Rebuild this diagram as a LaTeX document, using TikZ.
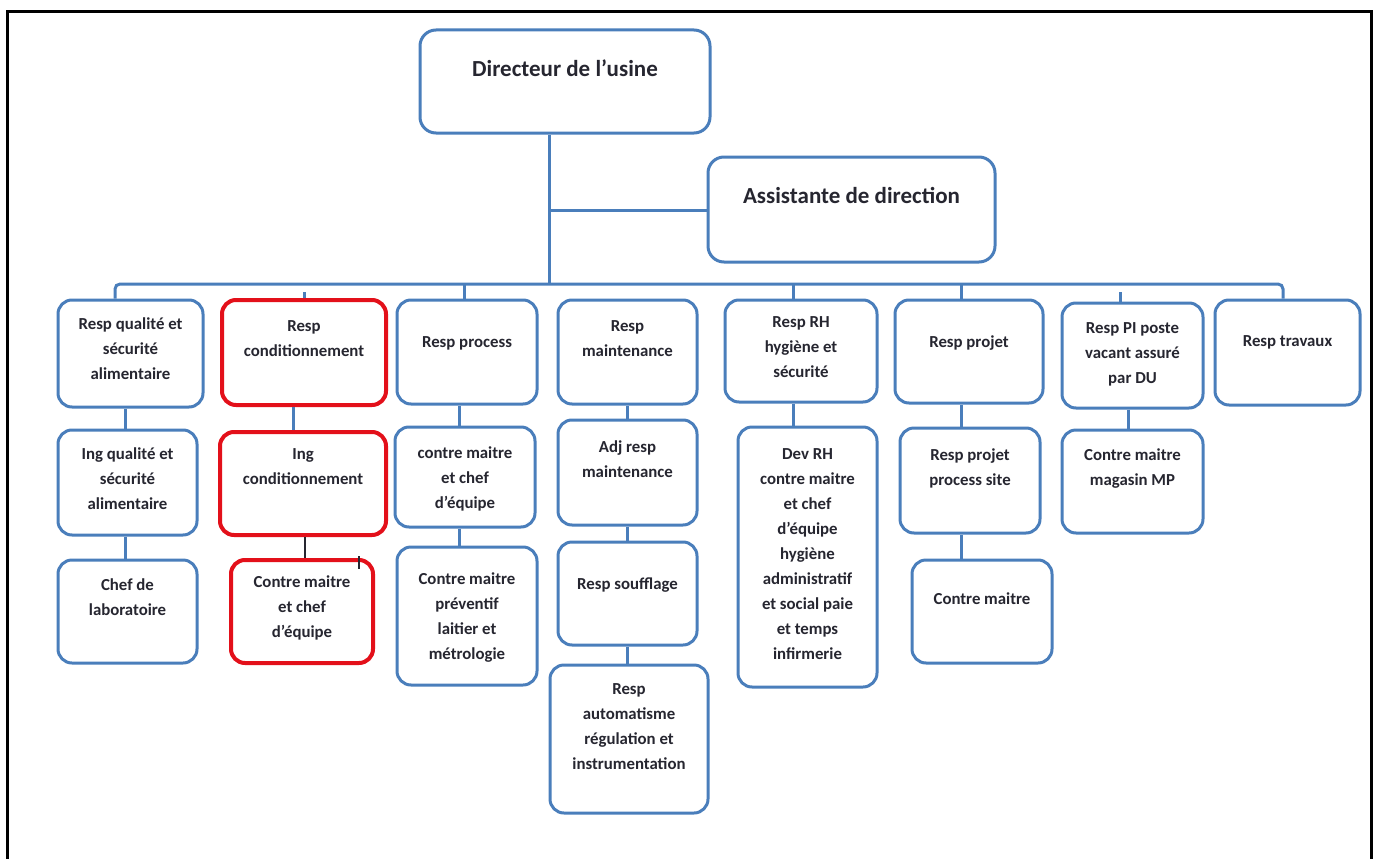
\documentclass[tikz,border=0pt]{standalone}
\usepackage{fontspec}
\setmainfont{Carlito}
\usetikzlibrary{fit}
\definecolor{boxblue}{HTML}{4A7EBB}
\definecolor{boxred}{HTML}{E3101A}
\definecolor{ink}{HTML}{262630}
\tikzset{
  box/.style={draw=boxblue, fill=white, line width=3pt, rounded corners=14pt, inner sep=0pt},
  redbox/.style={draw=boxred, fill=white, line width=4pt, rounded corners=14pt, inner sep=0pt},
  lbl/.style={align=center, inner sep=0pt, text=ink, anchor=north,
    font=\bfseries\fontsize{16.8}{25}\selectfont},
  toplbl/.style={align=center, inner sep=0pt, text=ink, anchor=north,
    font=\bfseries\fontsize{23}{28}\selectfont},
  link/.style={draw=boxblue, line width=3pt},
  thinlink/.style={draw=ink, line width=1.6pt},
  frame/.style={draw=black, line width=3pt},
}
% \orgbox[style]{name}{x1}{y1}{x2}{y2}{y of first text line}{text}
\newcommand\orgbox[8][box]{%
  \node[#1, fit={(#3,#4) (#5,#6)}] (#2) {};
  \node[lbl] (#2-t) at ({(#3+#5)/2}, {#7-13}) {\strut #8};
}
\begin{document}
\begin{tikzpicture}[x=1pt, y=-1pt]
\useasboundingbox (0,0) rectangle (1373,859);

% outer frame, open at the bottom
\draw[frame] (7.5,859) -- (7.5,11.5) -- (1371.5,11.5) -- (1371.5,859);

% named points of the connector tree
\coordinate (tr) at (549,284);
\coordinate (jn) at (549,210);
\coordinate (busL) at (115,284);
\coordinate (busR) at (1283,284);
\coordinate (d13) at (464,284);
\coordinate (d15) at (793,284);
\coordinate (d16) at (961,284);
\coordinate (s12) at (304,292);
\coordinate (s17) at (1120,292);
\coordinate (c1) at (125,0);
\coordinate (c2) at (293,0);
\coordinate (c2b) at (305,0);
\coordinate (c3) at (459,0);
\coordinate (c4) at (627,0);
\coordinate (c5) at (793,0);
\coordinate (c6) at (961,0);
\coordinate (c7) at (1128,0);
\coordinate (m1) at (359,556);

% top level
\node[box, rounded corners=16pt, fit={(420,30) (710,133)}] (dir) {};
\node[toplbl] (dir-t) at (565,57) {\strut Directeur de l’usine};
\node[box, rounded corners=16pt, fit={(708,157) (995,262)}] (asst) {};
\node[toplbl] (asst-t) at (851.5,184) {\strut Assistante de direction};

\draw[link] (dir.south -| tr) -- (tr);
\draw[link] (jn) -- (asst.west |- jn);

% first row
\orgbox{b11}{58}{300}{203}{407}{325}{Resp qualité et\\sécurité\\alimentaire}
\orgbox[redbox]{b12}{222}{300}{386}{405}{327}{Resp\\conditionnement}
\orgbox{b13}{397}{300}{537}{404}{343}{Resp process}
\orgbox{b14}{558}{300}{697}{404}{327}{Resp\\maintenance}
\orgbox{b15}{725}{300}{877}{402}{323}{Resp RH\\hygiène et\\sécurité}
\orgbox{b16}{895}{300}{1043}{403}{343}{Resp projet}
\orgbox{b17}{1062}{303}{1203}{408}{329}{Resp PI poste\\vacant assuré\\par DU}
\orgbox{b18}{1215}{300}{1360}{405}{342}{Resp travaux}

% bus
\draw[link, rounded corners=5pt] (b11.north -| busL) -- (busL) -- (busR) -- (b18.north -| busR);
\draw[link] (d13) -- (b13.north -| d13);
\draw[link] (d15) -- (b15.north -| d15);
\draw[link] (d16) -- (b16.north -| d16);
\draw[link] (s12) -- (b12.north -| s12);
\draw[link] (s17) -- (b17.north -| s17);

% second row
\orgbox{b21}{58}{430}{197}{535}{455}{Ing qualité et\\sécurité\\alimentaire}
\orgbox[redbox]{b22}{220}{432}{386}{535}{455}{Ing\\conditionnement}
\orgbox{b23}{395}{427}{535}{527}{454}{contre maitre\\et chef\\d’équipe}
\orgbox{b24}{558}{420}{697}{525}{448}{Adj resp\\maintenance}
\orgbox{b25}{738}{427}{877}{687}{455}{Dev RH\\contre maitre\\et chef\\d’équipe\\hygiène\\administratif\\et social paie\\et temps\\infirmerie}
\orgbox{b26}{900}{428}{1040}{533}{456}{Resp projet\\process site}
\orgbox{b27}{1062}{430}{1203}{533}{456}{Contre maitre\\magasin MP}

% third row
\orgbox{b31}{58}{560}{197}{663}{586}{Chef de\\laboratoire}
\orgbox[redbox]{b32}{231}{560}{373}{663}{583}{Contre maitre\\et chef\\d’équipe}
\orgbox{b33}{397}{547}{537}{685}{580}{Contre maitre\\préventif\\laitier et\\métrologie}
\orgbox{b34}{558}{542}{697}{645}{585}{Resp soufflage}
\orgbox{b36}{912}{560}{1052}{663}{600}{Contre maitre}

% fourth row
\orgbox{b44}{550}{665}{708}{813}{690}{Resp\\automatisme\\régulation et\\instrumentation}

% links between levels
\draw[link] (b11.south -| c1) -- (b21.north -| c1);
\draw[link] (b21.south -| c1) -- (b31.north -| c1);
\draw[link] (b12.south -| c2) -- (b22.north -| c2);
\draw[thinlink] (b22.south -| c2b) -- (b32.north -| c2b);
\draw[link] (b13.south -| c3) -- (b23.north -| c3);
\draw[link] (b23.south -| c3) -- (b33.north -| c3);
\draw[link] (b14.south -| c4) -- (b24.north -| c4);
\draw[link] (b24.south -| c4) -- (b34.north -| c4);
\draw[link] (b34.south -| c4) -- (b44.north -| c4);
\draw[link] (b15.south -| c5) -- (b25.north -| c5);
\draw[link] (b16.south -| c6) -- (b26.north -| c6);
\draw[link] (b26.south -| c6) -- (b36.north -| c6);
\draw[link] (b17.south -| c7) -- (b27.north -| c7);

% small stray mark above the last red box
\draw[thinlink] (m1) -- ++(0,13);
\end{tikzpicture}
\end{document}
